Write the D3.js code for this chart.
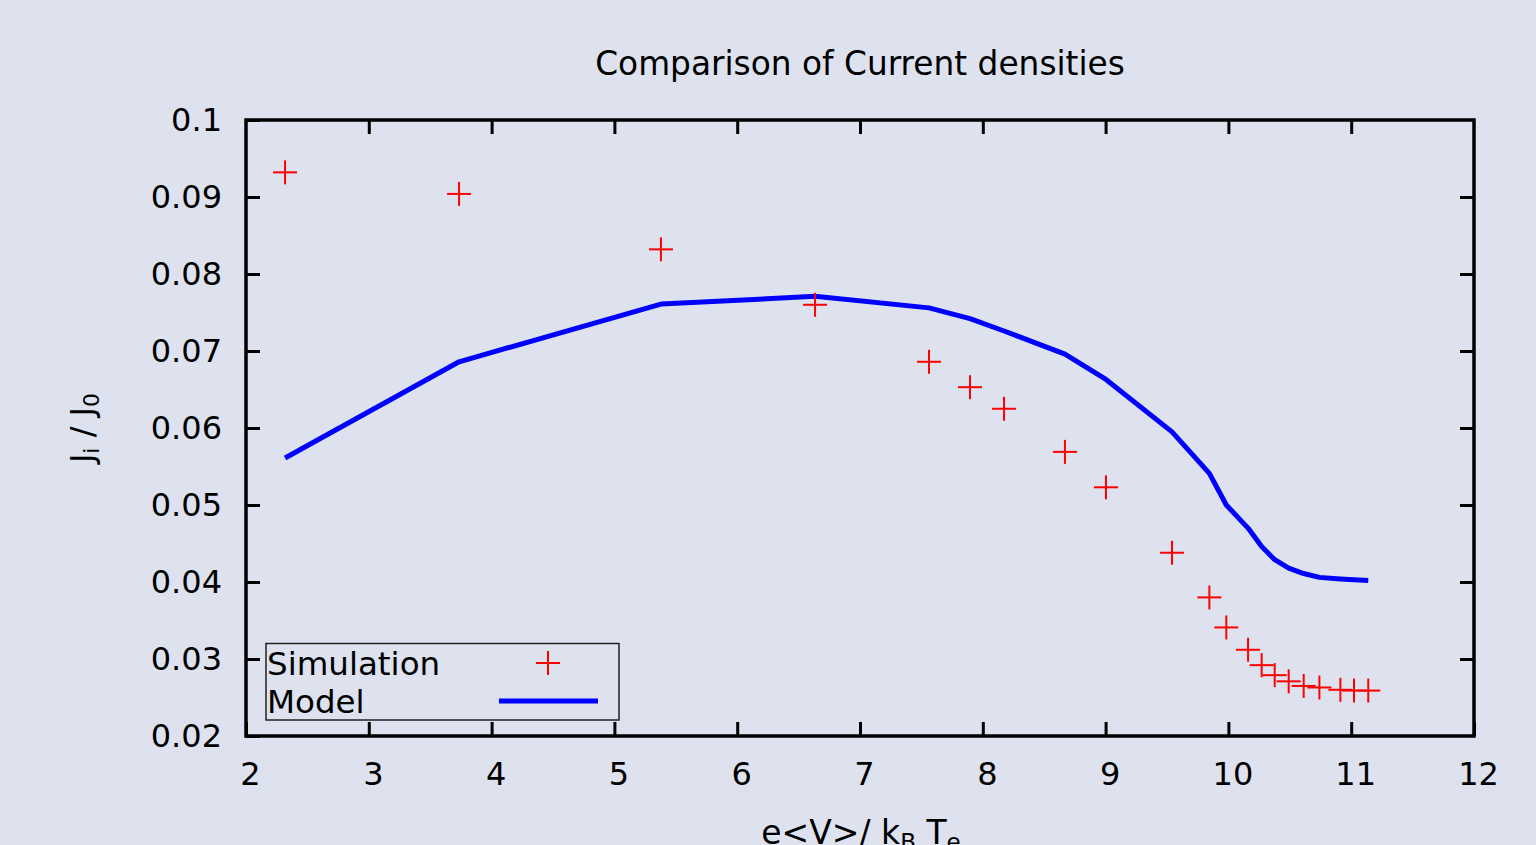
<!DOCTYPE html>
<html>
<head>
<meta charset="utf-8">
<script src="https://cdn.jsdelivr.net/npm/d3@7"></script>
<style>
  html, body { margin: 0; padding: 0; background: #dde2ee; }
  svg { display: block; }
  text { font-family: "DejaVu Sans", sans-serif; fill: #000; }
</style>
</head>
<body>
<svg width="1536" height="845"></svg>
<script>
'use strict';

// data
const xVals = [2.318, 3.735, 5.379, 6.634, 7.562, 7.896, 8.173, 8.669, 9.003, 9.541,
  9.845, 9.983, 10.16, 10.271, 10.377, 10.491, 10.613, 10.741, 10.912, 11.023, 11.139];
const simVals = [0.0932, 0.0904, 0.0832, 0.0760, 0.0686, 0.0653, 0.0625, 0.0569, 0.0523, 0.0438,
  0.0380, 0.0341, 0.0312, 0.0292, 0.0279, 0.0271, 0.0265, 0.0263, 0.0260, 0.0259, 0.0259];
const modelVals = [0.0561, 0.0686, 0.0761, 0.0771, 0.0756, 0.0742, 0.0726, 0.0696, 0.0663, 0.0595,
  0.0541, 0.0500, 0.0470, 0.0446, 0.0429, 0.0418, 0.0411, 0.0406, 0.0404, 0.0403, 0.0402];
const xTickVals = [2, 3, 4, 5, 6, 7, 8, 9, 10, 11, 12];
const yTickVals = [0.02, 0.03, 0.04, 0.05, 0.06, 0.07, 0.08, 0.09, 0.1];
const seriesNames = ["Simulation", "Model"];

const svg = d3.select("svg");
const margin = {top: 120, left: 246, right: 62, bottom: 109};
const width = 1536 - margin.left - margin.right;   // 1228
const height = 845 - margin.top - margin.bottom;   // 616
const fontSize = 32;

const x = d3.scaleLinear().domain([2, 12]).range([0, width]);
const y = d3.scaleLinear().domain([0.02, 0.1]).range([height, 0]);

const g = svg.append("g")
    .attr("transform", "translate(" + margin.left + "," + margin.top + ")");

// title
svg.append("text")
    .attr("x", margin.left + width / 2)
    .attr("y", 75)
    .attr("text-anchor", "middle")
    .style("font-size", "32.8px")
    .text("Comparison of Current densities");

// axes (ticks inward, mirrored)
const tickLen = 14;
function styleAxis(sel) {
  sel.select(".domain").remove();
  sel.selectAll(".tick line").attr("stroke", "#000").attr("stroke-width", 3);
  sel.selectAll(".tick text").style("font-size", fontSize + "px").attr("fill", "#000");
}

g.append("g")
    .attr("transform", "translate(0," + height + ")")
    .call(d3.axisBottom(x).tickValues(xTickVals).tickSizeInner(-tickLen).tickSizeOuter(0)
      .tickPadding(26).tickFormat(d => String(d)))
    .call(styleAxis)
    .call(a => a.selectAll(".tick text").attr("x", 4));

g.append("g")
    .call(d3.axisTop(x).tickValues(xTickVals.slice(1, -1)).tickSizeInner(-tickLen).tickSizeOuter(0)
      .tickFormat(""))
    .call(styleAxis);

g.append("g")
    .call(d3.axisLeft(y).tickValues(yTickVals).tickSizeInner(-tickLen).tickSizeOuter(0)
      .tickPadding(24).tickFormat(d => String(d)))
    .call(styleAxis);

g.append("g")
    .attr("transform", "translate(" + width + ",0)")
    .call(d3.axisRight(y).tickValues(yTickVals.slice(1, -1)).tickSizeInner(-tickLen).tickSizeOuter(0)
      .tickFormat(""))
    .call(styleAxis);

// frame
g.append("rect")
    .attr("width", width)
    .attr("height", height)
    .attr("fill", "none")
    .attr("stroke", "#000")
    .attr("stroke-width", 3.5);

// model line
const line = d3.line()
    .x((d, i) => x(xVals[i]))
    .y(d => y(d));

g.append("path")
    .datum(modelVals)
    .attr("fill", "none")
    .attr("stroke", "#0000ff")
    .attr("stroke-width", 5)
    .attr("stroke-linejoin", "round")
    .attr("d", line);

// simulation crosses
const arm = 12;
function plus(sel) {
  sel.append("line").attr("x1", -arm).attr("x2", arm).attr("y1", 0).attr("y2", 0);
  sel.append("line").attr("x1", 0).attr("x2", 0).attr("y1", -arm).attr("y2", arm);
}

g.append("g")
    .attr("stroke", "#ff0000")
    .attr("stroke-width", 2)
    .selectAll("g")
    .data(simVals)
    .join("g")
    .attr("transform", (d, i) => "translate(" + x(xVals[i]) + "," + y(d) + ")")
    .each(function() { plus(d3.select(this)); });

// legend
const legend = svg.append("g");
legend.append("rect")
    .attr("x", 266).attr("y", 643.5)
    .attr("width", 353).attr("height", 76.5)
    .attr("fill", "none")
    .attr("stroke", "#222")
    .attr("stroke-width", 1.5);

legend.selectAll("text.name")
    .data(seriesNames)
    .join("text")
    .attr("class", "name")
    .attr("x", 267)
    .attr("y", (d, i) => 675 + i * 38)
    .style("font-size", "32.5px")
    .text(d => d);

legend.append("g")
    .attr("transform", "translate(548,663)")
    .attr("stroke", "#ff0000")
    .attr("stroke-width", 2)
    .call(plus);

legend.append("line")
    .attr("x1", 499).attr("x2", 598)
    .attr("y1", 701).attr("y2", 701)
    .attr("stroke", "#0000ff")
    .attr("stroke-width", 5);

// axis labels
const xl = svg.append("text")
    .attr("x", 861)
    .attr("y", 844)
    .attr("text-anchor", "middle")
    .style("font-size", "33px");
xl.append("tspan").text("e<V>/ k");
xl.append("tspan").attr("dy", 6).style("font-size", "23px").text("B");
xl.append("tspan").attr("dy", -6).text(" T");
xl.append("tspan").attr("dy", 6).style("font-size", "23px").text("e");

const yl = svg.append("text")
    .attr("transform", "translate(93,428) rotate(-90)")
    .attr("text-anchor", "middle")
    .style("font-size", fontSize + "px");
yl.append("tspan").text("J");
yl.append("tspan").attr("dy", 6).style("font-size", "22px").text("i");
yl.append("tspan").attr("dy", -6).text(" / J");
yl.append("tspan").attr("dy", 6).style("font-size", "22px").text("0");
</script>
</body>
</html>
